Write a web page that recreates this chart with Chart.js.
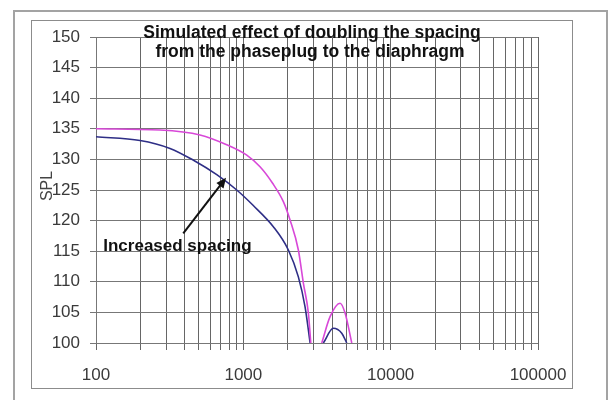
<!DOCTYPE html>
<html><head><meta charset="utf-8">
<style>
html,body{margin:0;padding:0;background:#fff;}
#wrap{position:relative;width:608px;height:400px;overflow:hidden;}
#outer{position:absolute;left:13px;top:10px;width:595px;height:400px;border:2px solid #a3a3a3;box-sizing:border-box;}
#inner{position:absolute;left:31px;top:20px;width:542px;height:369px;border:1.5px solid #8c8c8c;box-sizing:border-box;}
canvas{position:absolute;left:0;top:0;}
</style>
<script src="https://cdn.jsdelivr.net/npm/chart.js@4"></script>
</head><body>
<div id="wrap"><div id="outer"></div><div id="inner"></div><canvas id="c" width="608" height="400"></canvas></div>
<script>
// ---- data ----
const titleLines = ['Simulated effect of doubling the spacing', 'from the phaseplug to the diaphragm'];
const yAxisTitle = 'SPL';
const annotationText = 'Increased spacing';

const freqOriginal = [100, 272, 508, 771, 1055, 1298, 1580, 1869, 2075, 2363, 2555, 2763, 2869, 3100, 3406, 3879, 4534, 4903, 5445];
const splOriginal  = [135.0, 134.8, 134.0, 132.4, 130.7, 128.8, 126.1, 123.1, 120.1, 115.2, 109.8, 104.9, 100, null, 100, 104.3, 106.5, 104.9, 100];

const freqIncreased = [100, 199, 318, 456, 660, 902, 1164, 1598, 2021, 2363, 2624, 2840, 3100, 3492, 4083, 4656, 5035];
const splIncreased  = [133.7, 133.1, 131.8, 129.9, 127.5, 125.0, 122.5, 119.0, 115.2, 110.8, 105.9, 100, null, 100, 102.4, 101.6, 100];

const xTickLabels = [100, 1000, 10000, 100000];
const yMin = 100, yMax = 150, yStep = 5;

// arrow (data coordinates): tail -> tip, and label anchor
const arrowTail = {x: 391, y: 117.9};
const arrowTip  = {x: 763, y: 127.0};
const labelAnchor = {x: 112, y: 115.8};

// minor grid positions: 1..9 x each decade
const gridValues = [];
for (let d = 0; d < xTickLabels.length - 1; d++) {
  for (let m = 1; m <= 9; m++) gridValues.push(xTickLabels[d] * m);
}
gridValues.push(xTickLabels[xTickLabels.length - 1]);

const toPts = (xs, ys) => xs.map((x, i) => ({x: x, y: ys[i]}));

const overlay = {
  id: 'overlay',
  afterDraw(chart) {
    const ctx = chart.ctx, ca = chart.chartArea;
    const xs = chart.scales.x, ys = chart.scales.y;
    ctx.save();
    ctx.fillStyle = '#111';
    ctx.textAlign = 'center';
    ctx.textBaseline = 'middle';
    ctx.font = 'bold 17.5px "Liberation Sans", Arial, sans-serif';
    ctx.fillText(titleLines[0], ca.left + 216, 33);
    ctx.fillText(titleLines[1], ca.left + 214, 52);
    // y axis title
    ctx.save();
    ctx.translate(48, 186);
    ctx.rotate(-Math.PI / 2);
    ctx.font = '16px "Liberation Sans", Arial, sans-serif';
    ctx.fillStyle = '#444';
    ctx.fillText(yAxisTitle, 0, 0);
    ctx.restore();
    // annotation text
    ctx.textAlign = 'left';
    ctx.font = 'bold 17px "Liberation Sans", Arial, sans-serif';
    ctx.fillStyle = '#111';
    ctx.fillText(annotationText, xs.getPixelForValue(labelAnchor.x), ys.getPixelForValue(labelAnchor.y));
    // arrow
    const x1 = xs.getPixelForValue(arrowTail.x), y1 = ys.getPixelForValue(arrowTail.y);
    const x2 = xs.getPixelForValue(arrowTip.x),  y2 = ys.getPixelForValue(arrowTip.y);
    const ang = Math.atan2(y2 - y1, x2 - x1);
    const hl = 10, hw = 4.5;
    ctx.strokeStyle = '#111';
    ctx.lineWidth = 2;
    ctx.beginPath();
    ctx.moveTo(x1, y1);
    ctx.lineTo(x2 - hl * Math.cos(ang) * 0.8, y2 - hl * Math.sin(ang) * 0.8);
    ctx.stroke();
    ctx.beginPath();
    ctx.moveTo(x2, y2);
    ctx.lineTo(x2 - hl * Math.cos(ang) + hw * Math.sin(ang), y2 - hl * Math.sin(ang) - hw * Math.cos(ang));
    ctx.lineTo(x2 - hl * Math.cos(ang) - hw * Math.sin(ang), y2 - hl * Math.sin(ang) + hw * Math.cos(ang));
    ctx.closePath();
    ctx.fill();
    ctx.restore();
  }
};

new Chart(document.getElementById('c'), {
  type: 'line',
  data: {
    datasets: [
      {label: 'Original', data: toPts(freqOriginal, splOriginal), borderColor: '#d848d8', borderWidth: 1.6,
       pointRadius: 0, cubicInterpolationMode: 'monotone', spanGaps: false, fill: false},
      {label: 'Increased spacing', data: toPts(freqIncreased, splIncreased), borderColor: '#2e2e86', borderWidth: 1.6,
       pointRadius: 0, cubicInterpolationMode: 'monotone', spanGaps: false, fill: false}
    ]
  },
  options: {
    responsive: false,
    animation: false,
    devicePixelRatio: 1,
    layout: {padding: {left: 0, right: 70, top: 37, bottom: 0}},
    plugins: {legend: {display: false}, tooltip: {enabled: false}, title: {display: false}},
    scales: {
      x: {
        type: 'logarithmic', min: 100, max: 100000,
        afterBuildTicks: s => { s.ticks = gridValues.map(v => ({value: v})); },
        afterFit: s => { s.height = 57; },
        ticks: {
          autoSkip: false, maxRotation: 0, minRotation: 0, padding: 15, color: '#3a3a3a',
          font: {family: '"Liberation Sans", Arial, sans-serif', size: 17},
          callback: v => xTickLabels.includes(v) ? String(v) : ''
        },
        grid: {color: '#666', lineWidth: 1, tickLength: 7, drawTicks: true},
        border: {display: false}
      },
      y: {
        min: yMin, max: yMax,
        afterFit: s => { s.width = 96; },
        ticks: {stepSize: yStep, padding: 10, color: '#3a3a3a',
          font: {family: '"Liberation Sans", Arial, sans-serif', size: 17}},
        grid: {color: '#777', lineWidth: 1, tickLength: 6},
        border: {display: true, color: '#777', width: 1}
      }
    }
  },
  plugins: [overlay]
});
</script>
</body></html>
